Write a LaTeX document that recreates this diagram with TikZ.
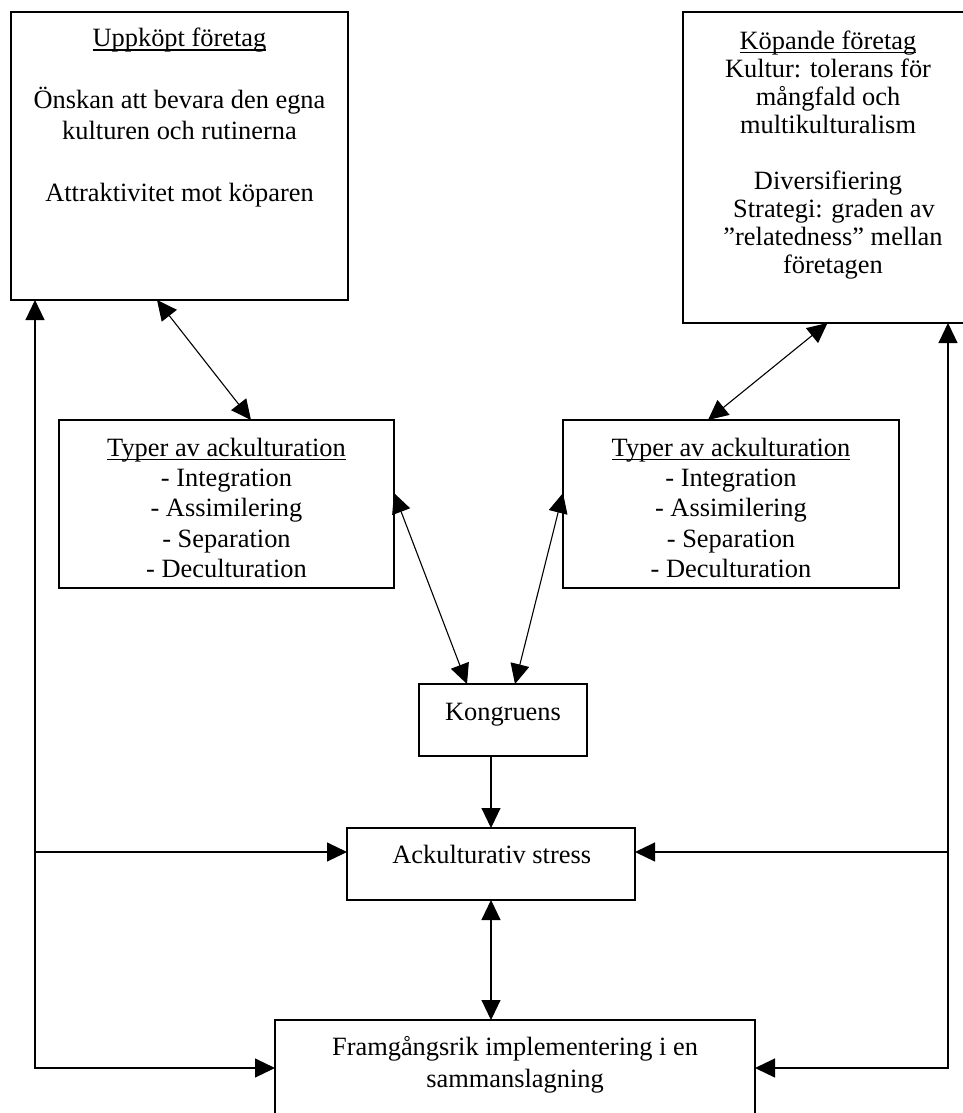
\documentclass[tikz,border=0pt]{standalone}
\usepackage{fontspec}
\setmainfont{Liberation Serif}
\usetikzlibrary{arrows.meta,calc}
\newcommand\myul[1]{\setbox0\hbox{#1}\rlap{\rule[-3.8pt]{\wd0}{1.3pt}}\box0}
\newcommand\fl{\rule{0pt}{25pt}}
\begin{document}
\begin{tikzpicture}[x=1pt,y=-1pt,
  box/.style={draw, line width=1.3pt, inner sep=0pt, outer sep=0pt},
  txt/.style={anchor=north, align=center, inner sep=0pt},
  arr/.style={line width=1.1pt, -{Triangle[length=20pt,width=19pt]}},
  biarr/.style={line width=1.1pt, {Triangle[length=20pt,width=19pt]}-{Triangle[length=20pt,width=19pt]}}]
\useasboundingbox (0,0) rectangle (963,1113);
% boxes
\node[box, minimum width=337pt, minimum height=288pt] (A) at (179.5,156) {};
\node[box, minimum width=289pt, minimum height=311pt] (B) at (827.5,167.5) {};
\node[box, minimum width=335pt, minimum height=168pt] (C) at (226.5,504) {};
\node[box, minimum width=336pt, minimum height=168pt] (D) at (731,504) {};
\node[box, minimum width=168pt, minimum height=72pt] (E) at (503,720) {};
\node[box, minimum width=288pt, minimum height=72pt] (F) at (491,864) {};
\node[box, minimum width=480pt, minimum height=96pt] (G) at (515,1068) {};
% texts
\node[txt, font=\fontsize{26.4}{31}\selectfont] (At) at (179.5,21.5)
  {\fl\myul{Uppköpt företag}\\[31pt] Önskan att bevara den egna\\ kulturen och rutinerna\\[31pt] Attraktivitet mot köparen};
\node[txt, font=\fontsize{26.4}{28}\selectfont] (Bt) at (828,24)
  {\fl\myul{Köpande företag}\\ Kultur: tolerans för\\ mångfald och\\ multikulturalism\\[28pt] Diversifiering\\ \hspace*{12pt}Strategi: graden av\\ \hspace*{10pt}”relatedness” mellan\\ \hspace*{10pt}företagen};
\node[txt, font=\fontsize{26.4}{30.3}\selectfont] (Ct) at (226.5,431)
  {\fl\myul{Typer av ackulturation}\\ - Integration\\ - Assimilering\\ - Separation\\ - Deculturation};
\node[txt, font=\fontsize{26.4}{30.3}\selectfont] (Dt) at (731,431)
  {\fl\myul{Typer av ackulturation}\\ - Integration\\ - Assimilering\\ - Separation\\ - Deculturation};
\node[txt, font=\fontsize{26.4}{31}\selectfont] (Et) at (503,695) {\fl Kongruens};
\node[txt, font=\fontsize{26.4}{31}\selectfont] (Ft) at (491.7,838) {\fl Ackulturativ stress};
\node[txt, font=\fontsize{26.4}{32}\selectfont] (Gt) at (515,1030)
  {\fl Framgångsrik implementering i en\\ sammanslagning};
% connectors
\draw[biarr] ($(A.south)+(-22.5,0)$) -- ($(C.north)+(24.5,0)$);
\draw[biarr] (B.south) -- ($(D.north)+(-23,0)$);
\draw[biarr] ($(C.east)+(0,-11)$) -- ($(E.north)+(-36,0)$);
\draw[biarr] ($(D.west)+(0,-11)$) -- ($(E.north)+(12,0)$);
\draw[arr] (F.north |- E.south) -- (F.north);
\draw[biarr] (F.south) -- (F.south |- G.north);
% side loops
\coordinate (LX) at ($(A.south west)+(24,0)$);
\coordinate (RX) at ($(B.south east)+(-24,0)$);
\coordinate (FW) at ($(F.west)+(0,-12)$);
\coordinate (FE) at ($(F.east)+(0,-12)$);
\draw[biarr] (LX) -- (LX |- G.west) -- (G.west);
\draw[arr] (LX |- FW) -- (FW);
\draw[biarr] (RX) -- (RX |- G.east) -- (G.east);
\draw[arr] (RX |- FE) -- (FE);
\end{tikzpicture}
\end{document}
